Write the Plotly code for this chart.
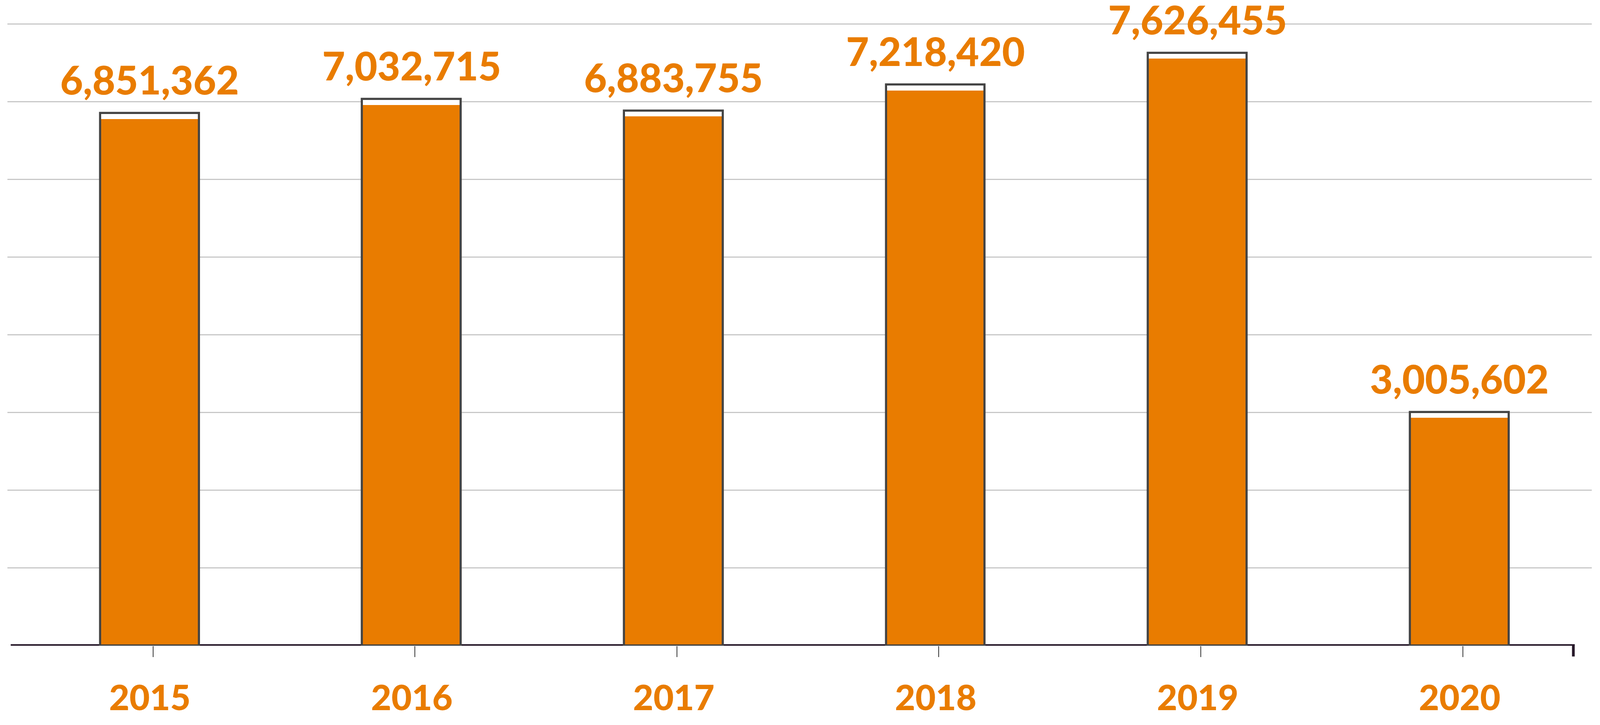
import plotly.graph_objects as go

# ---- data ----
years = [2015, 2016, 2017, 2018, 2019, 2020]
values = [6851362, 7032715, 6883755, 7218420, 7626455, 3005602]
year_labels = [str(y) for y in years]

# ---- page geometry: the browser viewport is 4096x1857 CSS px, body margin 8 ----
VIEW_W, VIEW_H = 4096, 1857
BODY = 8
REF_W = 4860                       # reference picture width
SX = VIEW_W / REF_W                # horizontal scale from reference px


def px(ref_x):
    """reference x pixel -> figure x pixel"""
    return ref_x * SX - BODY


def py(ref_y):
    """reference y pixel -> figure y pixel"""
    return ref_y - BODY


ORANGE = "#E97C00"
OUTLINE = "#444444"
AXIS_COL = "#27192A"
GRID_COL = "#C8C8C8"
FONT = "Lato"

W = VIEW_W - 2 * BODY
H = VIEW_H - 2 * BODY
M_L = px(23)
M_R = W - px(4835)
M_T = py(21)
M_B = H - py(1684)

plot_h = H - M_T - M_B
y_top = 8202219
px_per_unit = plot_h / y_top
gap_units = 15 / px_per_unit

x_lo = years[0] - 0.543
x_hi = years[0] + 5.505
ref_px_per_x = (4835 - 23) / (x_hi - x_lo)
tick_off = 10 / ref_px_per_x
BAR_W = 0.377

fill_top = [v - gap_units for v in values]

fig = go.Figure()
fig.add_trace(go.Bar(x=years, y=values, width=BAR_W,
                     marker=dict(color="white", line=dict(width=0)),
                     hoverinfo="skip", showlegend=False))
fig.add_trace(go.Bar(x=years, y=fill_top, width=BAR_W,
                     marker=dict(color=ORANGE, line=dict(width=0)),
                     hoverinfo="skip", showlegend=False))
fig.add_trace(go.Bar(x=years, y=values, width=BAR_W,
                     marker=dict(color="rgba(0,0,0,0)", line=dict(width=5.5, color=OUTLINE)),
                     showlegend=False))

for yr, v in zip(years, values):
    fig.add_annotation(x=yr, y=v, text=f"{v:,}", showarrow=False,
                       yanchor="bottom", xanchor="center", yshift=24,
                       font=dict(family=FONT, size=101, color=ORANGE, weight=900))

ax_x0 = x_lo + (33 - 23) / ref_px_per_x
ax_x1 = x_lo + (4783 - 23) / ref_px_per_x
fig.add_shape(type="line", xref="x", yref="y", x0=ax_x0, x1=ax_x1, y0=0, y1=0,
              line=dict(color=AXIS_COL, width=8), layer="below")
end_x = x_lo + (4779 - 23) / ref_px_per_x
fig.add_shape(type="line", xref="x", yref="paper", x0=end_x, x1=end_x,
              y0=4 / plot_h, y1=-28 / plot_h,
              line=dict(color=AXIS_COL, width=7), layer="below")

fig.update_layout(
    width=W, height=H,
    margin=dict(l=M_L, r=M_R, t=M_T, b=M_B),
    paper_bgcolor="white", plot_bgcolor="white",
    barmode="overlay", bargap=0,
    xaxis=dict(range=[x_lo, x_hi], tickvals=[y + tick_off for y in years],
               ticktext=year_labels, ticks="outside", ticklen=28, tickwidth=2,
               tickcolor="#333333", showline=False, showgrid=False, zeroline=False,
               ticklabelshift=-8, ticklabelstandoff=28,
               tickfont=dict(family=FONT, size=90, color=ORANGE, weight=900)),
    yaxis=dict(range=[0, y_top], dtick=1000000, tick0=0, showgrid=True,
               gridcolor=GRID_COL, gridwidth=2.5, showticklabels=False,
               zeroline=False, showline=False, ticks=""),
)

fig.write_html("out.html")
